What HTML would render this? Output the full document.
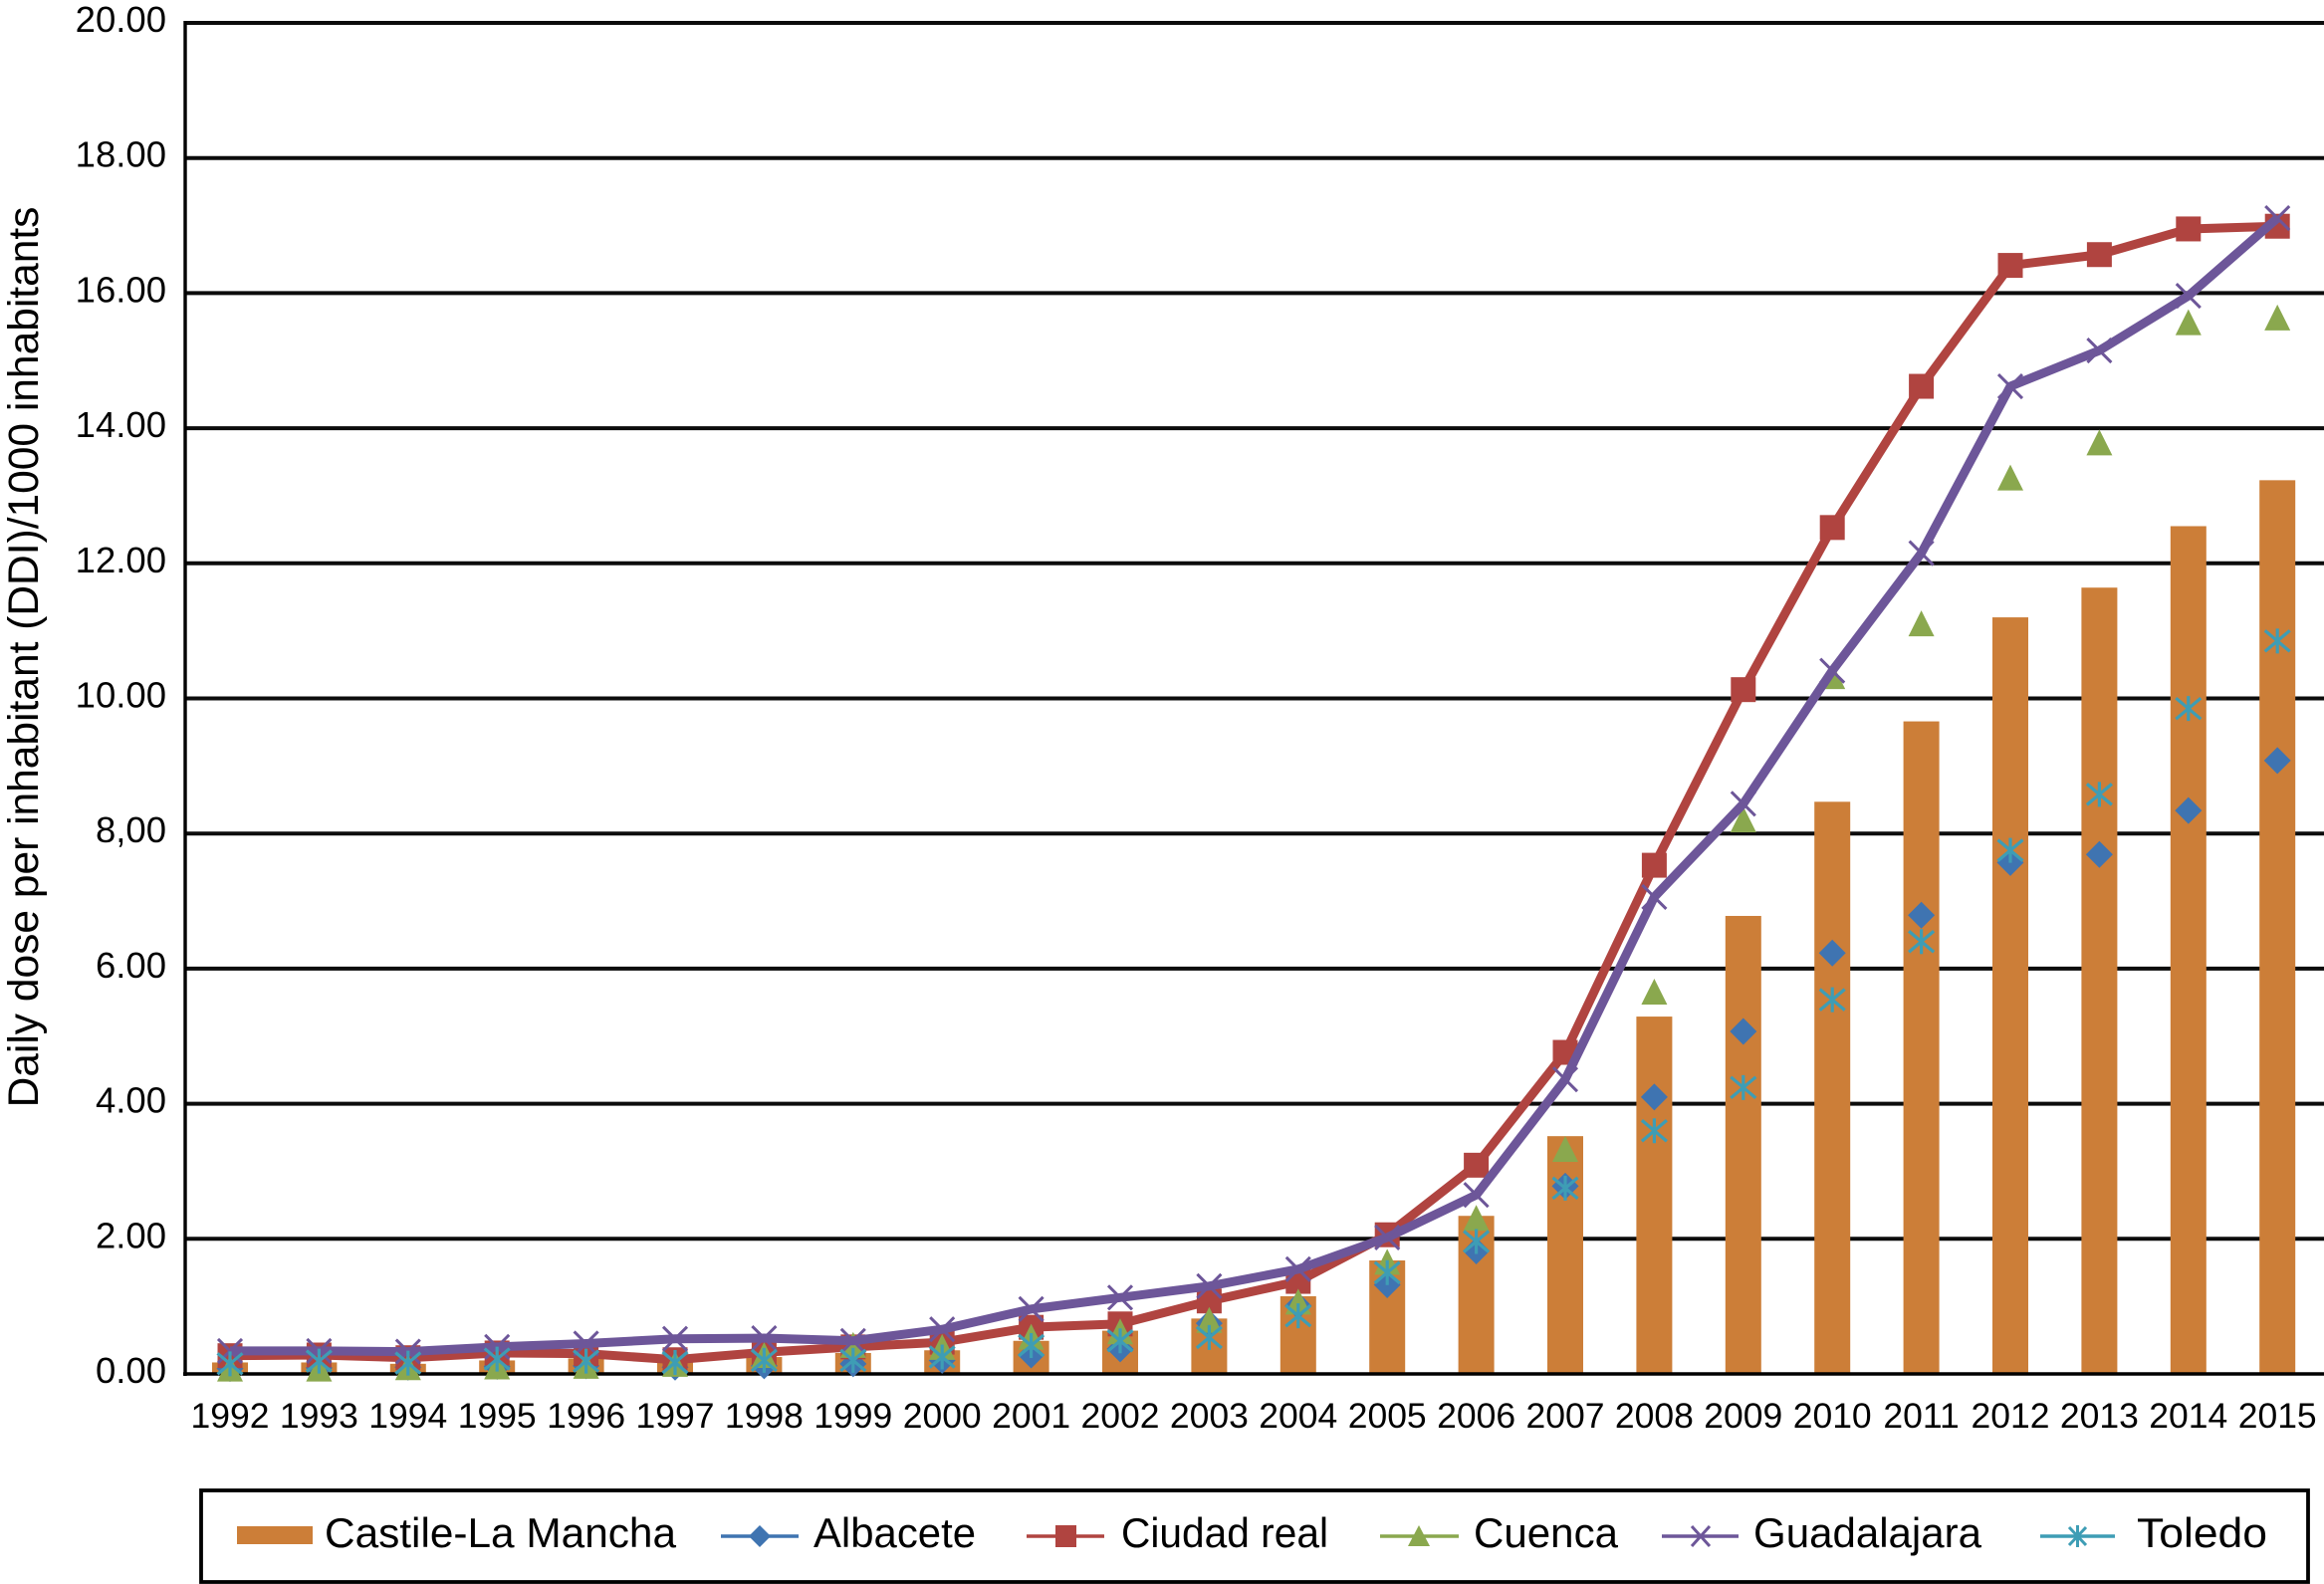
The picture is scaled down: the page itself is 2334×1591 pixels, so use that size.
<!DOCTYPE html>
<html lang="en">
<head>
<meta charset="utf-8">
<title>Daily dose per inhabitant, 1992–2015</title>
<style>
html,body{margin:0;padding:0;background:#fff;}
svg{display:block;font-family:"Liberation Sans",sans-serif;}
</style>
</head>
<body>
<svg id="chart" xmlns="http://www.w3.org/2000/svg" width="2334" height="1591" viewBox="0 0 2334 1591">
  <rect x="0" y="0" width="2334" height="1591" fill="#ffffff"/>
  <g id="grid"></g>
  <g id="bars"></g>
  <g id="axes"></g>
  <g id="series"></g>
  <g id="ylabels"></g>
  <g id="xlabels"></g>
  <text transform="translate(38,660) rotate(-90)" text-anchor="middle" font-size="42.5" fill="#000">Daily dose per inhabitant (DDI)/1000 inhabitants</text>
  <g>
    <rect x="202" y="1497" width="2116" height="92" fill="#fff" stroke="#000" stroke-width="3.8"/>
    <g>
      <rect x="238" y="1533" width="76" height="18" fill="#cc7e38"/>
      <text x="326" y="1554" font-size="42" textLength="353" lengthAdjust="spacingAndGlyphs" fill="#000">Castile-La Mancha</text>
    </g>
    <g>
      <line x1="724" y1="1543" x2="802" y2="1543" stroke="#3f74b1" stroke-width="3.4"/>
      <polygon points="763,1532 774,1543 763,1554 752,1543" fill="#3f74b1"/>
      <text x="817" y="1554" font-size="42" textLength="163" lengthAdjust="spacingAndGlyphs" fill="#000">Albacete</text>
    </g>
    <g>
      <line x1="1031" y1="1543" x2="1109" y2="1543" stroke="#b04440" stroke-width="3.4"/>
      <rect x="1060" y="1532" width="21" height="22" fill="#b04440"/>
      <text x="1126" y="1554" font-size="42" textLength="208" lengthAdjust="spacingAndGlyphs" fill="#000">Ciudad real</text>
    </g>
    <g>
      <line x1="1386" y1="1543" x2="1465" y2="1543" stroke="#8aa84e" stroke-width="3.4"/>
      <polygon points="1425,1532 1436,1553 1414,1553" fill="#8aa84e"/>
      <text x="1480" y="1554" font-size="42" textLength="145" lengthAdjust="spacingAndGlyphs" fill="#000">Cuenca</text>
    </g>
    <g>
      <line x1="1669" y1="1543" x2="1746" y2="1543" stroke="#6d5699" stroke-width="3.4"/>
      <path d="M1699 1533L1717 1553M1717 1533L1699 1553" stroke="#6d5699" stroke-width="3" fill="none"/>
      <text x="1761" y="1554" font-size="42" textLength="229" lengthAdjust="spacingAndGlyphs" fill="#000">Guadalajara</text>
    </g>
    <g>
      <line x1="2049" y1="1543" x2="2124" y2="1543" stroke="#3e9db5" stroke-width="3.4"/>
      <path d="M2078 1534L2095 1552M2095 1534L2078 1552M2086.500 1532L2086.500 1554" stroke="#3e9db5" stroke-width="3" fill="none"/>
      <text x="2146" y="1554" font-size="42" textLength="131" lengthAdjust="spacingAndGlyphs" fill="#000">Toledo</text>
    </g>
  </g>
</svg>
<script>
const categories = ["1992","1993","1994","1995","1996","1997","1998","1999","2000","2001","2002","2003","2004","2005","2006","2007","2008","2009","2010","2011","2012","2013","2014","2015"];
const yTickValues = [0,2,4,6,8,10,12,14,16,18,20];
const yTickLabels = ["0.00","2.00","4.00","6.00","8,00","10.00","12.00","14.00","16.00","18.00","20.00"];
const castileLaMancha = [0.17,0.17,0.15,0.20,0.23,0.18,0.25,0.31,0.35,0.49,0.64,0.82,1.15,1.68,2.34,3.52,5.29,6.78,8.47,9.66,11.20,11.64,12.55,13.23];
const albacete = [0.08,0.09,0.10,0.11,0.12,0.10,0.12,0.15,0.20,0.28,0.37,0.75,1.01,1.32,1.82,2.78,4.10,5.07,6.23,6.79,7.57,7.69,8.34,9.08];
const ciudadReal = [0.27,0.28,0.24,0.31,0.30,0.21,0.32,0.40,0.47,0.69,0.74,1.08,1.37,2.06,3.09,4.76,7.53,10.13,12.53,14.62,16.41,16.57,16.95,16.99];
const cuenca = [0.08,0.08,0.10,0.11,0.12,0.15,0.28,0.43,0.40,0.55,0.63,0.80,1.07,1.66,2.31,3.33,5.66,8.21,10.33,11.11,13.27,13.79,15.57,15.64];
const guadalajara = [0.34,0.34,0.33,0.40,0.45,0.52,0.53,0.49,0.66,0.96,1.13,1.30,1.55,2.02,2.65,4.36,7.06,8.44,10.41,12.15,14.62,15.15,15.96,17.11];
const toledo = [0.15,0.19,0.16,0.22,0.19,0.17,0.20,0.20,0.25,0.42,0.49,0.54,0.86,1.50,1.96,2.75,3.60,4.24,5.54,6.40,7.75,8.58,9.85,10.85];

const NS = "http://www.w3.org/2000/svg";
const xLeft = 231, xStep = 89.4, yBase = 1380, yPerUnit = 67.85;
function xAt(i){ return xLeft + i * xStep; }
function yAt(v){ return yBase - v * yPerUnit; }
function make(tag, attrs, parent, text){
  const node = document.createElementNS(NS, tag);
  for (const k in attrs) node.setAttribute(k, attrs[k]);
  if (text !== undefined) node.textContent = text;
  parent.appendChild(node);
  return node;
}
const grid = document.getElementById("grid");
const bars = document.getElementById("bars");
const axes = document.getElementById("axes");
const seriesLayer = document.getElementById("series");
const ylabels = document.getElementById("ylabels");
const xlabels = document.getElementById("xlabels");

yTickValues.forEach(function(v, i){
  if (v !== 0) {
    const g = make("line", {x1:186, x2:2334, y1:yAt(v), y2:yAt(v), stroke:"#0c0c0c", "stroke-width":4}, grid);
    
    
  }
  const t = make("text", {x:167, y:yAt(v)+9, "text-anchor":"end", "font-size":36.5, fill:"#000"}, ylabels, yTickLabels[i]);
  
  
});

categories.forEach(function(c, i){
  const w = 36;
  const b = make("rect", {x:xAt(i)-w/2, y:yAt(castileLaMancha[i]), width:w, height:yBase-yAt(castileLaMancha[i]), fill:"#cc7e38"}, bars);
  
  
  const t = make("text", {x:xAt(i), y:1434, "text-anchor":"middle", "font-size":35.5, fill:"#000"}, xlabels, c);
  
  
});

const yAxis = make("line", {x1:186, x2:186, y1:21, y2:1382, stroke:"#000", "stroke-width":3.4}, axes);


const xAxis = make("line", {x1:184, x2:2334, y1:yBase, y2:yBase, stroke:"#000", "stroke-width":3.6}, axes);



function drawLine(values, color, name){
  const pts = values.map(function(v, i){ return xAt(i) + "," + yAt(v); }).join(" ");
  const p = make("polyline", {points:pts, fill:"none", stroke:color, "stroke-width":9, "stroke-linejoin":"round"}, seriesLayer);
  
  
}
function drawDiamonds(values, color, name){
  const r = 13.5;
  values.forEach(function(v, i){
    const x = xAt(i), y = yAt(v);
    const m = make("polygon", {points:[x,y-r,x+r,y,x,y+r,x-r,y].join(" "), fill:color}, seriesLayer);
    
    
  });
}
function drawSquares(values, color, name){
  const r = 12.5;
  values.forEach(function(v, i){
    const m = make("rect", {x:xAt(i)-r, y:yAt(v)-r, width:2*r, height:2*r, fill:color}, seriesLayer);
    
    
  });
}
function drawTriangles(values, color, name){
  const r = 13;
  values.forEach(function(v, i){
    const x = xAt(i), y = yAt(v);
    const m = make("polygon", {points:[x,y-r,x+r,y+r,x-r,y+r].join(" "), fill:color}, seriesLayer);
    
    
  });
}
function drawCrosses(values, color, name){
  const r = 12;
  values.forEach(function(v, i){
    const x = xAt(i), y = yAt(v);
    const d = "M"+(x-r)+" "+(y-r)+"L"+(x+r)+" "+(y+r)+"M"+(x+r)+" "+(y-r)+"L"+(x-r)+" "+(y+r);
    const m = make("path", {d:d, fill:"none", stroke:color, "stroke-width":3}, seriesLayer);
    
    
  });
}
function drawStars(values, color, name){
  const r = 12.5;
  values.forEach(function(v, i){
    const x = xAt(i), y = yAt(v);
    const d = "M"+(x-r)+" "+(y-r+2)+"L"+(x+r)+" "+(y+r-2)+"M"+(x+r)+" "+(y-r+2)+"L"+(x-r)+" "+(y+r-2)+"M"+x+" "+(y-r)+"L"+x+" "+(y+r);
    const m = make("path", {d:d, fill:"none", stroke:color, "stroke-width":3.2}, seriesLayer);
    
    
  });
}
drawDiamonds(albacete, "#3f74b1", "albacete");
drawLine(ciudadReal, "#b04440", "ciudad-real");
drawSquares(ciudadReal, "#b04440", "ciudad-real");
drawTriangles(cuenca, "#8aa84e", "cuenca");
drawLine(guadalajara, "#6d5699", "guadalajara");
drawCrosses(guadalajara, "#6d5699", "guadalajara");
drawStars(toledo, "#3e9db5", "toledo");
</script>
</body>
</html>
